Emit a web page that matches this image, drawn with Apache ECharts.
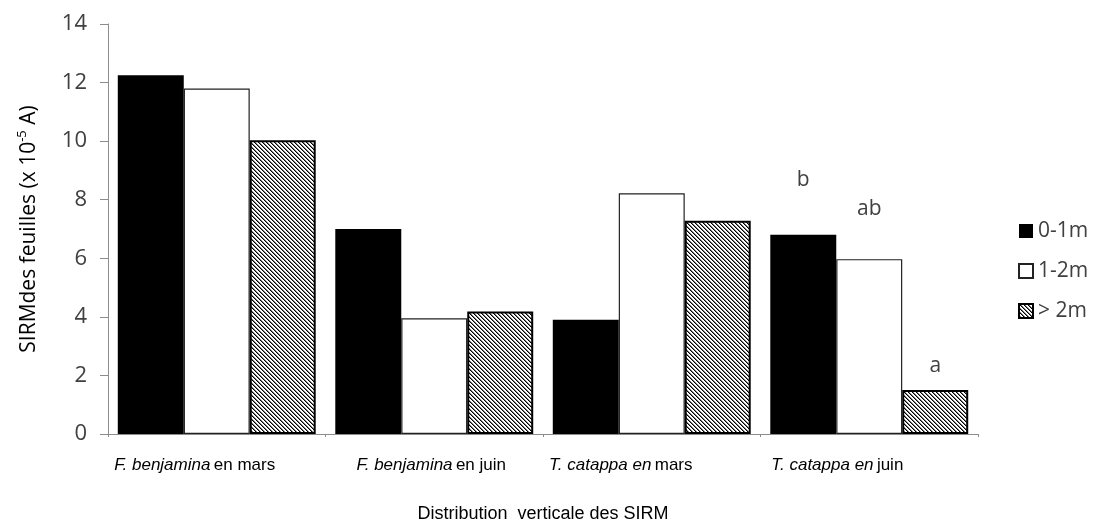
<!DOCTYPE html>
<html>
<head>
<meta charset="utf-8">
<script src="https://cdn.jsdelivr.net/npm/echarts@6/dist/echarts.min.js"></script>
<style>
  html, body { margin: 0; padding: 0; background: #ffffff; }
  #chart { width: 1098px; height: 528px; }
</style>
</head>
<body>
<div id="chart"></div>
<script>
// Species / period labels (italic part + upright part)
const italicParts = ['F. benjamina', 'F. benjamina', 'T. catappa en', 'T. catappa en'];
const plainParts = ['en mars', 'en juin', 'mars', 'juin'];
const categories = italicParts.map((s, i) => s + ' ' + plainParts[i]);

// Height classes
const seriesNames = ['0-1m', '1-2m', '> 2m'];

// SIRM values (x 10^-5 A)
const low = [12.25, 7.0, 3.9, 6.8];
const mid = [11.8, 3.95, 8.22, 5.97];
const high = [10.03, 4.18, 7.28, 1.5];

// Significance letters for T. catappa en juin
const letters = ['b', 'ab', 'a'];

const yTicks = [0, 2, 4, 6, 8, 10, 12, 14];

// Diagonal hatch tile (lines running top-left to bottom-right)
function hatchPattern() {
  const c = document.createElement('canvas');
  c.width = 4; c.height = 4;
  const ctx = c.getContext('2d');
  ctx.fillStyle = '#ffffff';
  ctx.fillRect(0, 0, 4, 4);
  for (let i = 0; i < 4; i++) {
    ctx.fillStyle = '#000000';
    ctx.fillRect(i, i, 1, 1);
    ctx.fillStyle = '#7a7a7a';
    ctx.fillRect((i + 1) % 4, i, 1, 1);
  }
  return { image: c, repeat: 'repeat' };
}
const hatch = hatchPattern();

const labelFont = '"Liberation Sans Narrow", "Liberation Sans", Arial, sans-serif';
const tickFont = '"Open Sans", "Noto Sans", sans-serif';

// Per-category horizontal nudge of the axis labels (px, negative = left)
const labelShift = [-22, -3, -31, -32];
const rich = { it: { fontStyle: 'italic', fontSize: 17, fontFamily: labelFont, color: '#000' } };
labelShift.forEach((d, i) => {
  rich['rm' + i] = {
    fontSize: 17, fontFamily: labelFont, color: '#000',
    padding: [0, Math.max(0, -2 * d), 0, Math.max(0, 2 * d)]
  };
});

function withLetters(values, letterIdx, dist) {
  return values.map((v, i) => {
    if (i !== 3) return v;
    return {
      value: v,
      label: {
        show: true, position: 'top', distance: dist,
        formatter: letters[letterIdx],
        fontSize: 21, fontFamily: tickFont, color: '#404040'
      }
    };
  });
}

const chart = echarts.init(document.getElementById('chart'), null, { renderer: 'canvas' });
chart.setOption({
  animation: false,
  backgroundColor: '#ffffff',
  grid: { left: 108, right: 120, top: 24, bottom: 94 },
  legend: {
    orient: 'vertical',
    left: 1018,
    top: 218,
    padding: 0,
    itemWidth: 14,
    itemHeight: 14,
    itemGap: 14,
    icon: 'rect',
    data: seriesNames,
    textStyle: { fontSize: 21, fontFamily: tickFont, color: '#404040', lineHeight: 26 }
  },
  xAxis: {
    type: 'category',
    data: categories,
    name: 'Distribution  verticale des SIRM',
    nameLocation: 'middle',
    nameGap: 71,
    nameTextStyle: { fontSize: 18, fontFamily: labelFont, color: '#000' },
    axisLine: { lineStyle: { color: '#8c8c8c', width: 1 } },
    axisTick: { show: true, length: 3, lineStyle: { color: '#8c8c8c' } },
    axisLabel: {
      margin: 23,
      formatter: (v, i) => '{it|' + italicParts[i] + '} {rm' + i + '|' + plainParts[i] + '}',
      rich: rich
    }
  },
  yAxis: {
    type: 'value',
    min: yTicks[0],
    max: yTicks[yTicks.length - 1],
    interval: 2,
    name: '{n|SIRMdes feuilles (x 10}{s|-5}{n| A)}',
    nameLocation: 'middle',
    nameRotate: 90,
    nameGap: 68,
    nameTextStyle: {
      rich: {
        n: { fontSize: 21, fontFamily: tickFont, color: '#000', lineHeight: 24, verticalAlign: 'bottom' },
        s: { fontSize: 13, fontFamily: tickFont, color: '#000', lineHeight: 24, verticalAlign: 'top' }
      }
    },
    splitLine: { show: false },
    axisLine: { show: true, lineStyle: { color: '#8c8c8c', width: 1 } },
    axisTick: { show: true, length: 8, lineStyle: { color: '#8c8c8c' } },
    axisLabel: { margin: 21, fontSize: 22, fontFamily: tickFont, color: '#404040' }
  },
  series: [
    {
      name: seriesNames[0], type: 'bar', data: withLetters(low, 0, 44),
      barGap: '0%', barCategoryGap: '9%',
      itemStyle: { color: '#000000', borderColor: '#000000', borderWidth: 0 }
    },
    {
      name: seriesNames[1], type: 'bar', data: withLetters(mid, 1, 40),
      barGap: '0%', barCategoryGap: '9%',
      itemStyle: { color: '#ffffff', borderColor: '#222222', borderWidth: 1.2 }
    },
    {
      name: seriesNames[2], type: 'bar', data: withLetters(high, 2, 14),
      barGap: '0%', barCategoryGap: '9%',
      itemStyle: { color: hatch, borderColor: '#000000', borderWidth: 2 }
    }
  ]
});
</script>
</body>
</html>
